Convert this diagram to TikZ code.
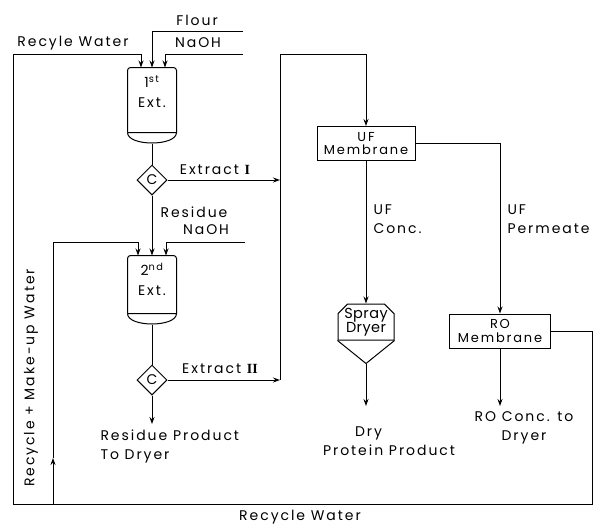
\documentclass[tikz,border=0pt]{standalone}
\usepackage{fontspec}
\setmainfont{Poppins}[LetterSpace=14]
\newfontfamily\romfont{Liberation Serif}
\newfontfamily\dryfont{Poppins}[LetterSpace=3]
\usetikzlibrary{arrows.meta, positioning, shapes.geometric, shapes.misc}

\tikzset{
  vessel/.style={rectangle, minimum width=48pt, minimum height=64pt, inner sep=0pt},
  cfg/.style={draw, diamond, minimum size=30pt, inner sep=0pt},
  membrane/.style={draw, rectangle, minimum height=34pt, inner sep=1pt, align=center, font=\fontsize{13}{13.5}\selectfont},
  dryer/.style={draw, chamfered rectangle, chamfered rectangle corners={north west, north east}, chamfered rectangle xsep=6pt, minimum width=56pt, minimum height=36pt, inner sep=0pt, align=center, font=\dryfont\fontsize{14.5}{14}\selectfont},
  lbl/.style={inner sep=1pt, align=left}
}

\begin{document}
\begin{tikzpicture}[x=1pt, y=-1pt, line width=1pt, font=\fontsize{14}{19}\selectfont, >={Stealth[length=7pt, width=5pt, inset=2.5pt]}]
\useasboundingbox (0,0) rectangle (594,525);

% extractors
\node[vessel] (ext1) at (152,100) {};
\node[vessel, minimum height=57pt] (ext2) at (152,284.5) {};
\foreach \v in {ext1, ext2} {
  \draw[rounded corners=3pt] (\v.south west) -- (\v.north west) -- (\v.north east) -- (\v.south east);
  \draw (\v.south west) -- (\v.south east) .. controls +(0,14) and +(0,14) .. (\v.south west);
}
\coordinate (ext1b) at ([yshift=-11pt]ext1.south);
\coordinate (ext2b) at ([yshift=-11pt]ext2.south);
\node[below=4pt of ext1.north, align=center, font=\fontsize{14}{20}\selectfont] (ext1t) {1\textsuperscript{st}\\Ext.};
\node[below=4pt of ext2.north, align=center, font=\fontsize{14}{20}\selectfont] (ext2t) {2\textsuperscript{nd}\\Ext.};

% centrifuges
\node[cfg] (c1) at (152,180) {C};
\node[cfg] (c2) at (152,380) {C};

% feeds to 1st extractor
\coordinate (flour) at (243,31);
\coordinate (naoh1) at (243,54);
\coordinate (rwin) at ([xshift=-11pt]ext1.north);
\coordinate (naoh1in) at ([xshift=13pt]ext1.north);
\draw[->] (flour) -| (ext1.north);
\draw[->] (naoh1) -| (naoh1in);
\node (flourlbl) at (197,20) {Flour};
\node (naoh1lbl) at (198,43) {NaOH};
\node (rwlbl) at (73,43) {Recyle Water};

% feeds to 2nd extractor
\coordinate (naoh2) at (245,242);
\coordinate (rw2in) at ([xshift=-14pt]ext2.north);
\coordinate (naoh2in) at ([xshift=14pt]ext2.north);
\draw[->] (naoh2) -| (naoh2in);
\node (naoh2lbl) at (206,230) {NaOH};

% main train
\draw (ext1b) -- (c1.north);
\draw[->] (c1.south) -- (ext2.north);
\node (reslbl) at (194,212) {Residue};
\draw (ext2b) -- (c2.north);
\coordinate (resout) at (152,424);
\draw[->] (c2.south) -- (resout);
\node[lbl, anchor=north west] (resprod) at (99,428) {Residue Product\\ To Dryer};

% extracts to UF
\coordinate (j1) at (280,180);
\coordinate (j2) at (280,380);
\coordinate (top) at (280,54);
\draw[->] (c1.east) -- (j1);
\draw[->] (c2.east) -- (j2);
\node (ex1lbl) at (215,170) {Extract {\romfont\bfseries I}};
\node (ex2lbl) at (220,369) {Extract {\romfont\bfseries II}};

\node[membrane, minimum width=98pt] (uf) at (366,143.5) {UF\\Membrane};
\draw[->] (j2) -- (top) -| (uf.north);

% UF concentrate
\node[dryer] (spray) at (366,322) {Spray\\Dryer};
\coordinate (sprayb) at ([yshift=-23pt]spray.south);
\draw (spray.south west) -- (sprayb) -- (spray.south east);
\draw[->] (uf.south) -- (spray.north);
\node[lbl, anchor=west] (ufclbl) at (372,219) {UF\\Conc.};
\coordinate (dryout) at (366,406);
\draw[->] (sprayb) -- (dryout);
\node[lbl] (dryprod) at (389,441) {\hspace*{32pt}Dry\\Protein Product};

% UF permeate
\node[membrane, minimum width=101pt] (ro) at (500,331) {RO\\Membrane};
\draw[->] (uf.east) -| (ro.north);
\node[lbl, anchor=west] (ufplbl) at (506,219) {UF\\Permeate};
\coordinate (roout) at (500,406);
\draw[->] (ro.south) -- (roout);
\node[align=center] (roconc) at (524,428) {RO Conc. to\\Dryer};

% recycle water
\coordinate (rwBR) at (592,504);
\coordinate (rwBL) at (13,504);
\coordinate (rwTL) at (13,54);
\draw[->] (ro.east) -| (rwBR) -- (rwBL) -- (rwTL) -| (rwin);
\node (rwblbl) at (300,517) {Recycle Water};

\coordinate (muB) at (53,504);
\coordinate (muA) at (53,458);
\coordinate (mu2) at (53,242);
\draw[->] (muB) -- (muA);
\draw[->] (muA) -- (mu2) -| (rw2in);
\node[rotate=90] (mulbl) at (31,378) {Recycle + Make-up Water};
\end{tikzpicture}
\end{document}
